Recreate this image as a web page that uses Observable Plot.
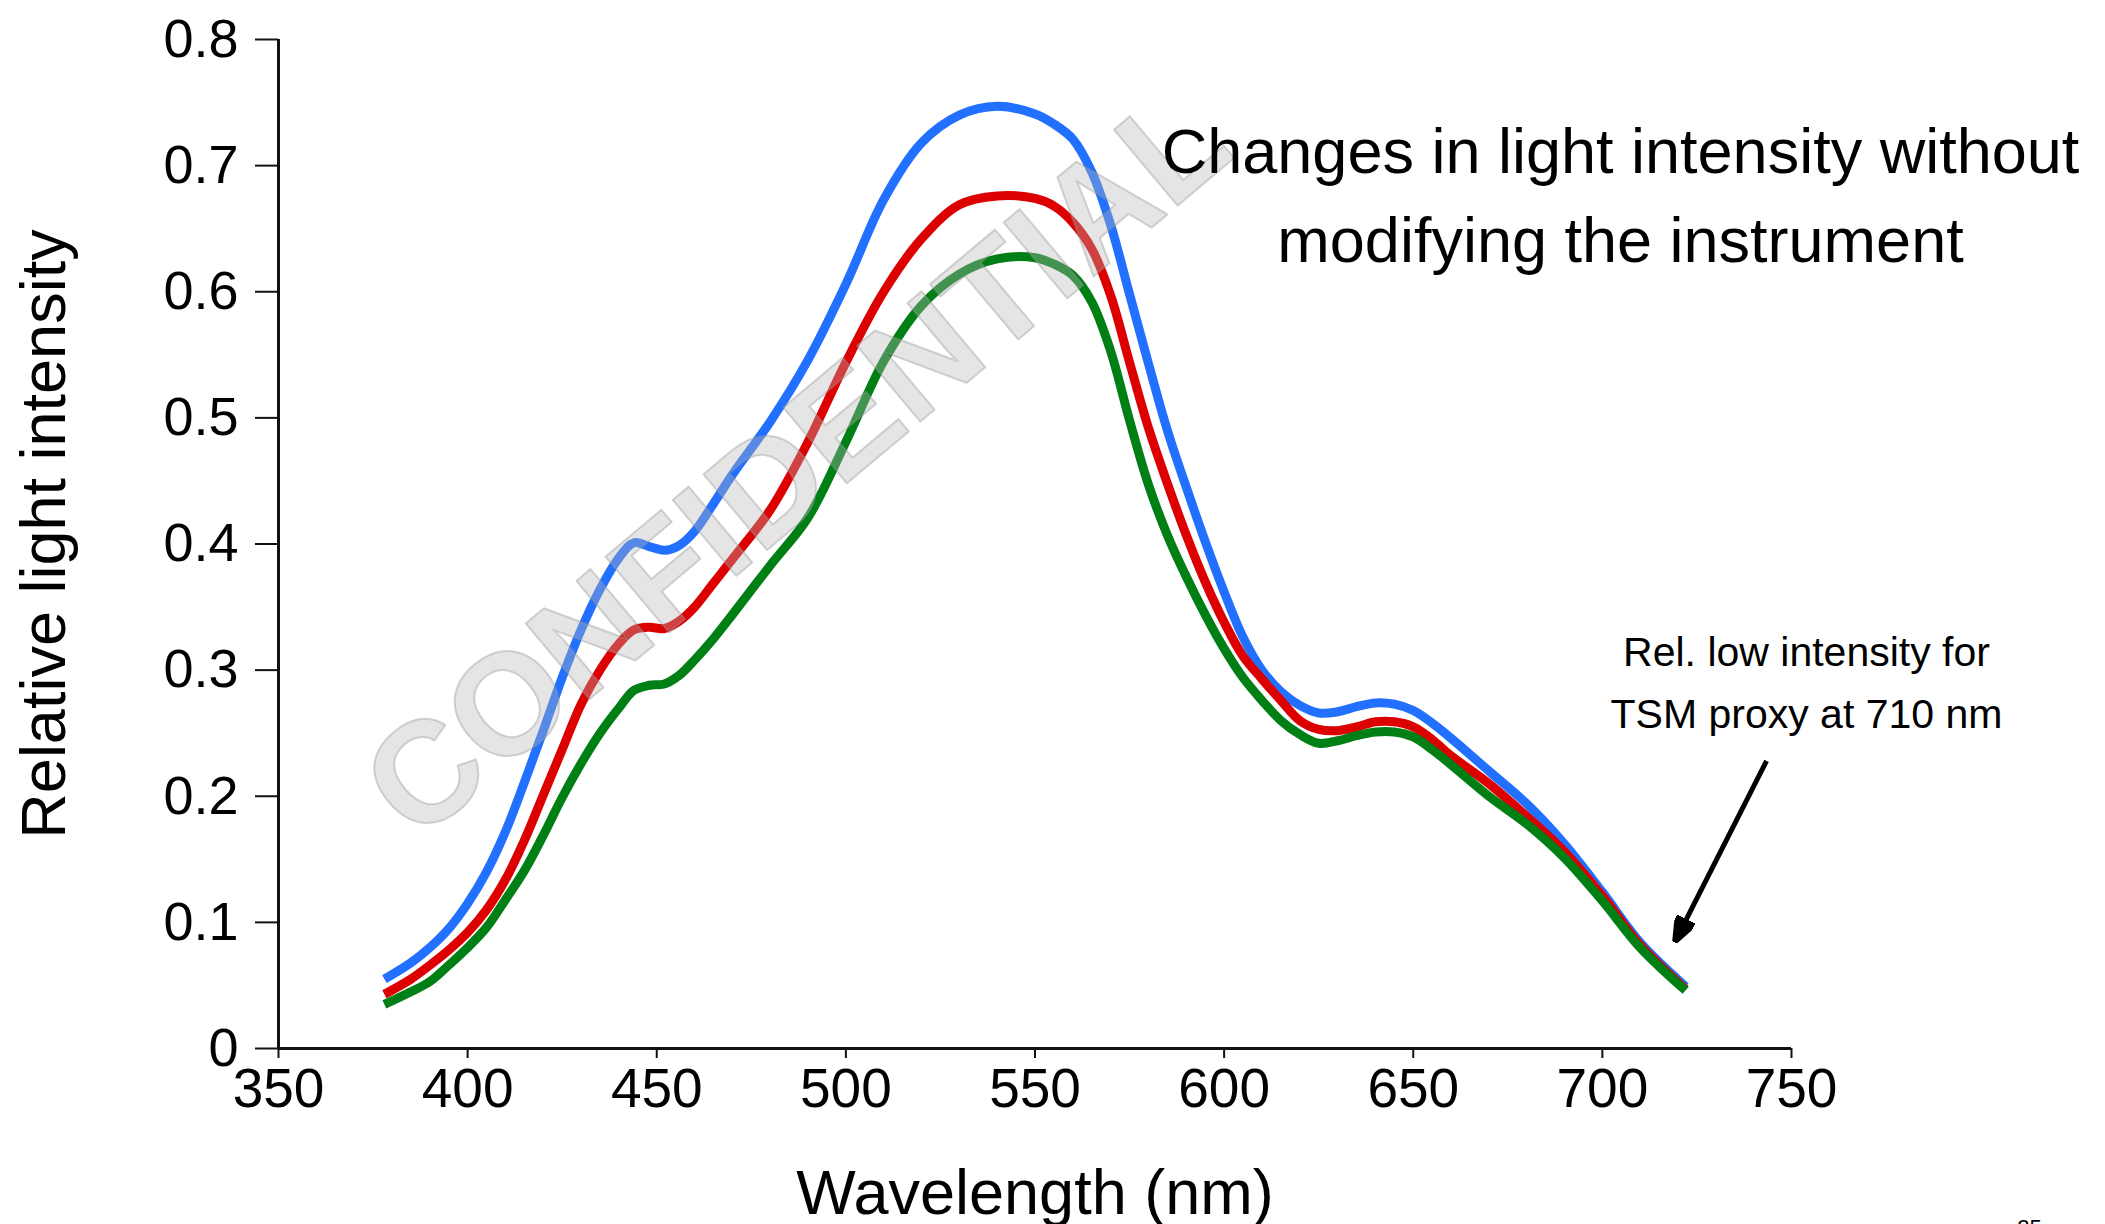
<!DOCTYPE html>
<html><head><meta charset="utf-8">
<script src="https://cdn.jsdelivr.net/npm/d3@7"></script>
<script src="https://cdn.jsdelivr.net/npm/@observablehq/plot@0.6"></script>
<style>
html,body{margin:0;padding:0;background:#fff;overflow:hidden;}
#chart{position:relative;width:2105px;height:1224px;}
</style></head><body><div id="chart"></div>
<script>
// ---- data ----
const wavelengths = [378,385,390,395,400,405,410,415,420,425,430,435,440,444,448,452,456,460,465,470,480,490,500,510,520,530,540,550,555,560,565,570,575,580,585,590,595,600,605,610,615,620,625,630,635,640,645,650,655,660,670,680,690,700,710,722];
const blueSeries = [0.055,0.068,0.080,0.095,0.115,0.140,0.172,0.211,0.252,0.294,0.332,0.364,0.389,0.401,0.398,0.395,0.399,0.410,0.432,0.455,0.497,0.546,0.606,0.673,0.718,0.740,0.747,0.741,0.733,0.721,0.695,0.653,0.598,0.543,0.490,0.445,0.402,0.362,0.326,0.300,0.283,0.272,0.266,0.267,0.271,0.274,0.273,0.268,0.258,0.246,0.220,0.194,0.162,0.124,0.084,0.049];
const redSeries = [0.043,0.055,0.066,0.078,0.092,0.110,0.134,0.165,0.201,0.237,0.273,0.300,0.321,0.332,0.334,0.333,0.339,0.350,0.369,0.388,0.427,0.481,0.544,0.600,0.642,0.669,0.676,0.674,0.668,0.655,0.634,0.597,0.544,0.492,0.448,0.407,0.370,0.338,0.311,0.293,0.276,0.260,0.253,0.252,0.255,0.259,0.259,0.255,0.245,0.232,0.210,0.184,0.156,0.121,0.082,0.047];
const greenSeries = [0.035,0.045,0.053,0.066,0.080,0.096,0.118,0.141,0.169,0.199,0.226,0.250,0.270,0.284,0.288,0.289,0.296,0.308,0.325,0.344,0.383,0.421,0.481,0.545,0.589,0.614,0.626,0.627,0.622,0.613,0.592,0.553,0.498,0.447,0.407,0.374,0.344,0.317,0.294,0.276,0.260,0.249,0.242,0.244,0.248,0.251,0.251,0.247,0.237,0.225,0.200,0.178,0.151,0.117,0.080,0.046];
const xTicks = [350,400,450,500,550,600,650,700,750];
const yTicks = [0,0.1,0.2,0.3,0.4,0.5,0.6,0.7,0.8];
const xLabel = "Wavelength (nm)";
const yLabel = "Relative light intensity";
const titleText = "Changes in light intensity without\nmodifying the instrument";
const noteText = "Rel. low intensity for\nTSM proxy at 710 nm";
const watermarkText = "CONFIDENTIAL";
const pageNumber = "25";
const arrowAnnot = [{x1: 743.4, y1: 0.228, x2: 719.8, y2: 0.0883}];

const FONT = "'Liberation Sans', Arial, Helvetica, sans-serif";
const rows = (vals) => wavelengths.map((w, i) => ({w, v: vals[i]}));
const lineOpts = (color) => ({x: "w", y: "v", stroke: color, strokeWidth: 9, curve: "catmull-rom", strokeLinecap: "butt", strokeLinejoin: "round"});

const arrowHead = (color) => {
  const m = d3.create("svg:marker")
    .attr("viewBox", "0 0 26 20")
    .attr("markerUnits", "userSpaceOnUse")
    .attr("markerWidth", 26).attr("markerHeight", 20)
    .attr("refX", 20).attr("refY", 10)
    .attr("orient", "auto");
  m.append("path").attr("d", "M0,0L26,10L0,20Z").attr("fill", color || "#000");
  return m.node();
};

function build(useCustomArrow) {
  const arrowMark = useCustomArrow
    ? Plot.link(arrowAnnot, {x1: "x1", y1: "y1", x2: "x2", y2: "y2", stroke: "#000", strokeWidth: 5, markerEnd: arrowHead})
    : Plot.arrow(arrowAnnot, {x1: "x1", y1: "y1", x2: "x2", y2: "y2", stroke: "#000", strokeWidth: 5, headLength: 16, headAngle: 60});
  return Plot.plot({
    width: 2105, height: 1224,
    marginLeft: 278, marginRight: 314, marginTop: 39, marginBottom: 176,
    style: {fontFamily: FONT, background: "#fff", color: "#000", overflow: "visible"},
    x: {domain: [350, 750]},
    y: {domain: [0, 0.8]},
    marks: [
      Plot.axisY({ticks: yTicks, tickSize: 23, tickPadding: 17, fontSize: 54, tickFormat: d => String(d), label: null, strokeWidth: 2, stroke: "#111", fill: "#000"}),
      Plot.axisX({ticks: xTicks, tickSize: 10, tickPadding: 9, fontSize: 55, tickFormat: d => String(d), label: null, strokeWidth: 2, stroke: "#111", fill: "#000"}),
      Plot.ruleX([350], {y1: 0, y2: 0.8, strokeWidth: 3, stroke: "#111"}),
      Plot.ruleY([0], {x1: 350, x2: 750, strokeWidth: 3, stroke: "#111"}),
      Plot.line(rows(blueSeries), lineOpts("#2270ff")),
      Plot.line(rows(redSeries), lineOpts("#dd0000")),
      Plot.line(rows(greenSeries), lineOpts("#007f15")),
      Plot.text([watermarkText], {text: d => d, frameAnchor: "top-left", dx: 519, dy: 425, rotate: -40,
        fontSize: 144, fontWeight: "bold", fill: "#b8b8b8", fillOpacity: 0.36, stroke: "#8c8c8c", strokeOpacity: 0.38, strokeWidth: 2,
        textAnchor: "middle", lineAnchor: "middle"}),
      Plot.text([titleText], {text: d => d, frameAnchor: "top-left", dx: 1342, dy: 222, fontSize: 63, lineHeight: 1.40,
        textAnchor: "middle", lineAnchor: "bottom", fill: "#000"}),
      Plot.text([noteText], {text: d => d, frameAnchor: "top-left", dx: 1528, dy: 688, fontSize: 41, lineHeight: 1.51,
        textAnchor: "middle", lineAnchor: "bottom", fill: "#000"}),
      arrowMark,
      Plot.text([xLabel], {text: d => d, frameAnchor: "bottom", dy: 165, fontSize: 63, textAnchor: "middle", lineAnchor: "bottom", fill: "#000"}),
      Plot.text([yLabel], {text: d => d, frameAnchor: "left", dx: -214, dy: -10, rotate: -90, fontSize: 63, textAnchor: "middle", lineAnchor: "bottom", fill: "#000"}),
      Plot.text([pageNumber], {text: d => d, frameAnchor: "top-left", dx: 1751, dy: 1195, fontSize: 22, textAnchor: "middle", lineAnchor: "bottom", fill: "#000"})
    ]
  });
}
let chart;
try { chart = build(true); } catch (e) { chart = build(false); }
document.getElementById("chart").appendChild(chart);
</script>
</body></html>
